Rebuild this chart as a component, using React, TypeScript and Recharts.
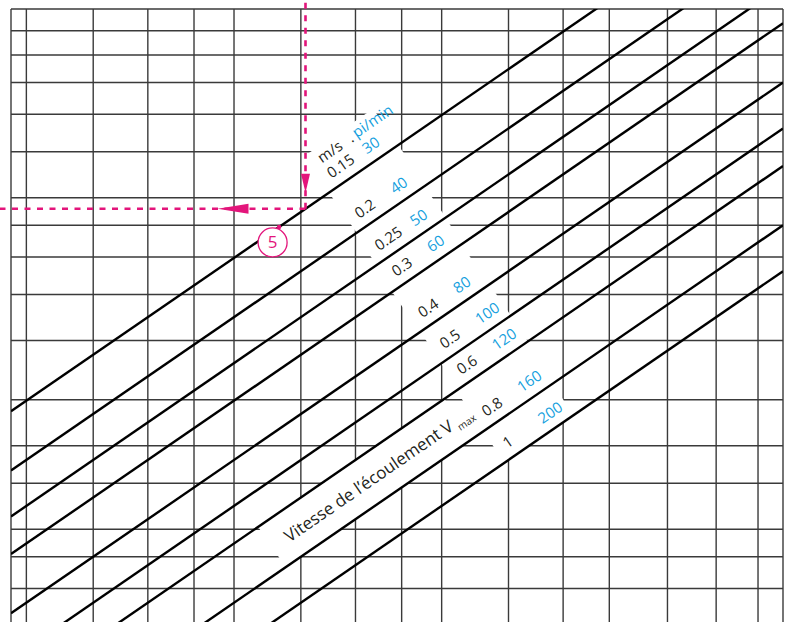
import React from 'react';
import { ComposedChart, XAxis, YAxis, ReferenceLine, ReferenceDot, Scatter } from 'recharts';

// grid values (both axes are logarithmic)
const xGrid = [1.9, 2, 2.5, 3, 3.5, 4, 5, 6, 7, 8, 10, 12, 14, 17, 20, 23, 25];
const yGrid = [60, 70, 80, 100, 120, 150, 200, 250, 300, 350, 400, 500, 600, 700, 800, 900, 1000];

// velocity lines, m/s and pi/min
const velocities = [0.15, 0.2, 0.25, 0.3, 0.4, 0.5, 0.6, 0.8, 1];
const velocityLabels = ['0.15', '0.2', '0.25', '0.3', '0.4', '0.5', '0.6', '0.8', '1'];
const fpmLabels = ['30', '40', '50', '60', '80', '100', '120', '160', '200'];
// x value along each line where its labels sit
const labelAt = [5.55, 6.09, 6.51, 6.89, 7.52, 8.09, 8.56, 9.31, 9.98];

const K = 11.2; // y = K * x / V
const titleAt = 4.82; // on the 0.8 line

// reading example (step 5)
const readX = 5.078;
const readV = 0.15;
const stepMarkX = 4.65;
const stepCircle = { x: 4.55, y: 322 };

const X_DOMAIN: [number, number] = [1.9, 25];
const Y_DOMAIN: [number, number] = [51, 1000];

const MAGENTA = '#E3157B';
const BLUE = '#159FDE';
const INK = '#231F20';
const ANGLE = -34.54;
const FONT = '"Open Sans", sans-serif';

const lineY = (x: number, v: number) => (K * x) / v;

const labelData = velocities.map((v, i) => ({
  x: labelAt[i],
  y: lineY(labelAt[i], v),
  black: velocityLabels[i],
  blue: fpmLabels[i],
  band: i === 0 ? 44 : 390 * Math.log10(v / velocities[i - 1]),
  top: i === 0,
}));

const titleData = [{ x: titleAt, y: lineY(titleAt, 0.8) }];

const MaskShape = (p: any) => {
  const { cx, cy, payload } = p;
  return (
    <g transform={`translate(${cx},${cy}) rotate(${ANGLE})`}>
      <rect x={-4} y={-payload.band} width={84} height={payload.band} fill="#fff" />
    </g>
  );
};

const TitleMask = (p: any) => (
  <g transform={`translate(${p.cx},${p.cy}) rotate(${ANGLE})`}>
    <rect x={-5} y={-48} width={226} height={48} fill="#fff" />
  </g>
);

const LabelShape = (p: any) => {
  const { cx, cy, payload } = p;
  return (
    <g transform={`translate(${cx},${cy}) rotate(${ANGLE})`} fontFamily={FONT} fontSize={15}>
      {payload.top && (
        <>
          <text x={7} y={-28} fill={INK}>m/s</text>
          <text x={43} y={-28} fill={INK}>.</text>
          <text x={50} y={-29} fill={BLUE}>pi/min</text>
        </>
      )}
      <text x={6} y={-10} fill={INK}>{payload.black}</text>
      <text x={49} y={-10} fill={BLUE}>{payload.blue}</text>
    </g>
  );
};

const TitleShape = (p: any) => (
  <g transform={`translate(${p.cx},${p.cy}) rotate(${ANGLE})`}>
    <text x={12} y={-18} fill={INK} fontFamily={FONT} fontSize={17}>
      Vitesse de l’écoulement V
      <tspan fontSize={10} dx={4} dy={5}>max</tspan>
    </text>
  </g>
);

const dashArrow = (tipAt: number, len: number, half: number, toward: 'start' | 'end') => (p: any) => {
  const { x1, y1, x2, y2 } = p;
  const L = Math.hypot(x2 - x1, y2 - y1) || 1;
  const ux = (x2 - x1) / L;
  const uy = (y2 - y1) / L;
  const tx = x1 + ux * tipAt;
  const ty = y1 + uy * tipAt;
  const s = toward === 'start' ? 1 : -1;
  const bx = tx + ux * len * s;
  const by = ty + uy * len * s;
  const nx = -uy;
  const ny = ux;
  return (
    <g>
      <line x1={x1} y1={y1} x2={x2} y2={y2} stroke={MAGENTA} strokeWidth={2.6} strokeDasharray="6 6.5" />
      <polygon
        points={`${tx},${ty} ${bx + nx * half},${by + ny * half} ${bx - nx * half},${by - ny * half}`}
        fill={MAGENTA}
      />
    </g>
  );
};

export default function App() {
  const readY = lineY(readX, readV);
  return (
    <div style={{ position: 'absolute', left: 0, top: 0, width: 792, height: 622, background: '#fff' }}>
      <ComposedChart width={792} height={622} margin={{ top: 9, right: 9, bottom: 0, left: 11 }}>
        <XAxis type="number" dataKey="x" scale="log" domain={X_DOMAIN} allowDataOverflow hide />
        <YAxis type="number" dataKey="y" scale="log" domain={Y_DOMAIN} allowDataOverflow hide />

        {xGrid.map((v) => (
          <ReferenceLine key={`gx-${v}`} x={v} stroke="#3a3a3a" strokeWidth={1.4} zIndex={100} />
        ))}
        {yGrid.map((v) => (
          <ReferenceLine key={`gy-${v}`} y={v} stroke="#3a3a3a" strokeWidth={1.4} zIndex={100} />
        ))}

        <Scatter data={labelData} shape={MaskShape} isAnimationActive={false} zIndex={200} />
        <Scatter data={titleData} shape={TitleMask} isAnimationActive={false} zIndex={200} />

        {velocities.map((v) => (
          <ReferenceLine
            key={`v-${v}`}
            segment={[
              { x: X_DOMAIN[0], y: lineY(X_DOMAIN[0], v) },
              { x: X_DOMAIN[1], y: lineY(X_DOMAIN[1], v) },
            ]}
            stroke="#000"
            strokeWidth={2.4}
            ifOverflow="hidden"
            zIndex={300}
          />
        ))}

        <ReferenceLine
          segment={[{ x: readX, y: readY }, { x: readX, y: 1050 }]}
          ifOverflow="visible"
          shape={dashArrow(16, 19, 4.5, 'start')}
          zIndex={400}
        />
        <ReferenceLine
          segment={[{ x: readX, y: readY }, { x: 1.82, y: readY }]}
          ifOverflow="visible"
          shape={dashArrow(88, 31, 5, 'end')}
          zIndex={400}
        />

        <Scatter data={labelData} shape={LabelShape} isAnimationActive={false} zIndex={500} />
        <Scatter data={titleData} shape={TitleShape} isAnimationActive={false} zIndex={500} />

        <ReferenceDot x={stepMarkX} y={lineY(stepMarkX, readV)} r={2.2} fill={MAGENTA} stroke="none" zIndex={600} />
        <ReferenceDot
          x={stepCircle.x}
          y={stepCircle.y}
          r={14.5}
          fill="#fff"
          stroke={MAGENTA}
          strokeWidth={1.3}
          zIndex={600}
          label={{ value: '5', position: 'center', fill: MAGENTA, fontSize: 17, fontFamily: FONT }}
        />
      </ComposedChart>
    </div>
  );
}
